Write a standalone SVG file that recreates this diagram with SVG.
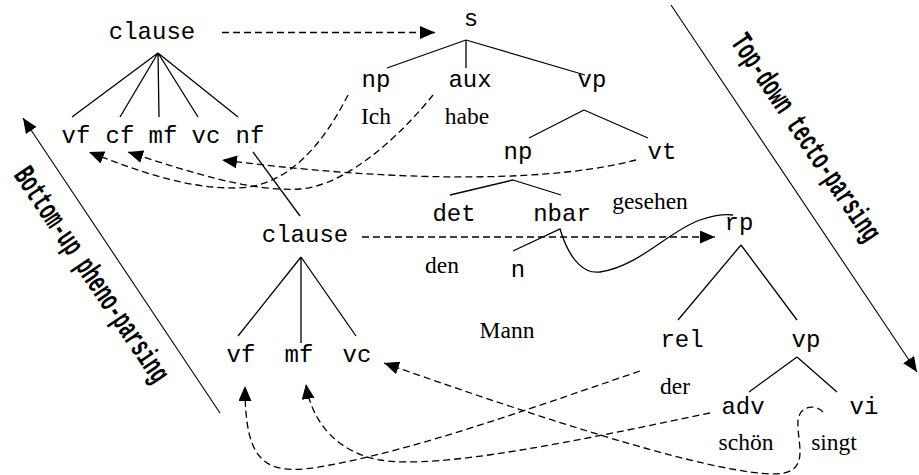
<svg xmlns="http://www.w3.org/2000/svg" width="919" height="475" viewBox="0 0 919 475">
<style>
.m{font-family:"Liberation Mono","DejaVu Sans Mono",monospace;font-size:24px;text-anchor:middle;fill:#000}
.s{font-family:"Liberation Serif","DejaVu Serif",serif;font-size:23.5px;text-anchor:middle;fill:#000}
.r{font-family:"Liberation Mono","DejaVu Sans Mono",monospace;font-size:31px;font-weight:bold;fill:#000}
.t{stroke:#000;stroke-width:1.3;fill:none}
.d{stroke:#000;stroke-width:1.3;fill:none;stroke-dasharray:7 4;marker-end:url(#ah)}
.a{stroke:#000;stroke-width:1.1;fill:none;marker-end:url(#ah)}
</style>
<defs>
<marker id="ah" markerWidth="15" markerHeight="13" refX="15" refY="6.5" orient="auto" markerUnits="userSpaceOnUse">
<path d="M0,0 L15,6.5 L0,13 z" fill="#000"/>
</marker>
</defs>
<rect width="919" height="475" fill="#fff"/>

<g id="clause-top"><text class="m" x="152" y="39">clause</text></g>
<g id="vf1"><text class="m" x="76" y="143">vf</text></g>
<g id="cf1"><text class="m" x="120" y="143">cf</text></g>
<g id="mf1"><text class="m" x="163" y="143">mf</text></g>
<g id="vc1"><text class="m" x="206" y="143">vc</text></g>
<g id="nf1"><text class="m" x="250" y="143">nf</text></g>

<g id="s"><text class="m" x="471" y="26">s</text></g>
<g id="np1"><text class="m" x="376" y="87">np</text></g>
<g id="aux"><text class="m" x="470" y="87">aux</text></g>
<g id="vp1"><text class="m" x="592" y="87">vp</text></g>
<g id="ich"><text class="s" x="376" y="124">Ich</text></g>
<g id="habe"><text class="s" x="467" y="124">habe</text></g>
<g id="np2"><text class="m" x="518" y="159">np</text></g>
<g id="vt"><text class="m" x="662" y="159">vt</text></g>
<g id="det"><text class="m" x="454" y="221">det</text></g>
<g id="nbar"><text class="m" x="562" y="221">nbar</text></g>
<g id="gesehen"><text class="s" x="650" y="209">gesehen</text></g>
<g id="rp"><text class="m" x="739" y="230">rp</text></g>
<g id="den"><text class="s" x="442" y="273">den</text></g>
<g id="n"><text class="m" x="518" y="277">n</text></g>
<g id="mann"><text class="s" x="507" y="338">Mann</text></g>

<g id="clause-mid"><text class="m" x="305" y="242">clause</text></g>
<g id="vf2"><text class="m" x="241" y="362">vf</text></g>
<g id="mf2"><text class="m" x="299" y="362">mf</text></g>
<g id="vc2"><text class="m" x="357" y="362">vc</text></g>

<g id="rel"><text class="m" x="682" y="347">rel</text></g>
<g id="vp2"><text class="m" x="806" y="347">vp</text></g>
<g id="der"><text class="s" x="675" y="394">der</text></g>
<g id="adv"><text class="m" x="743" y="414">adv</text></g>
<g id="vi"><text class="m" x="864" y="414">vi</text></g>
<g id="schoen"><text class="s" x="746" y="450">schön</text></g>
<g id="singt"><text class="s" x="834" y="450">singt</text></g>

<g id="label-bottom-up" transform="translate(13,175) rotate(56) scale(0.591,1)"><text class="r" x="0" y="0">Bottom-up pheno-parsing</text></g>
<g id="label-top-down" transform="translate(730,42) rotate(56) scale(0.594,1)"><text class="r" x="0" y="0">Top-down tecto-parsing</text></g>

<g id="connectors">
<path class="t" d="M158,53 L72,117 M158,53 L120,117 M158,53 L159,117 M158,53 L198,117 M158,53 L238,117"/>
<path class="t" d="M466,40 L387,68 M466,40 L466,68 M466,40 L585,75"/>
<path class="t" d="M584,110 L529,138 M584,110 L648,138"/>
<path class="t" d="M513,180 L450,195 M513,180 L561,195"/>
<path class="t" d="M253,152 L300,216"/>
<path class="t" d="M301,257 L238,336 M301,257 L301,343 M301,257 L356,336"/>
<path class="t" d="M741,245 L678,320 M741,245 L797,320"/>
<path class="t" d="M797,357 L749,392 M797,357 L837,392"/>
<path class="t" d="M513,251 L560,229 C570,262 585,274 600,272 C640,266 670,230 700,220 C715,215 725,214 733,215"/>
<path class="d" d="M222,32.5 L435,32.5"/>
<path class="d" d="M362,237 L715,237"/>
<path class="d" d="M348,95 C330,130 295,188 235,188 C185,188 140,172 89,152"/>
<path class="d" d="M433,95 C405,130 350,185 300,189 C250,192 190,172 128,152"/>
<path class="d" d="M636,160 C560,180 420,185 222,160"/>
<path class="d" d="M640,371 C520,412 420,448 330,465 C265,478 245,465 245,386"/>
<path class="d" d="M710,413 C580,440 440,470 380,460 C340,453 312,425 306,384"/>
<path class="d" d="M823,412 C816,404 800,405 798,420 C797,435 803,452 798,463 C793,474 780,476 750,472 C680,462 560,425 384,363"/>
<path class="a" d="M220,413 L23,118"/>
<path class="a" d="M671,5 L917,372"/>
</g>
</svg>
